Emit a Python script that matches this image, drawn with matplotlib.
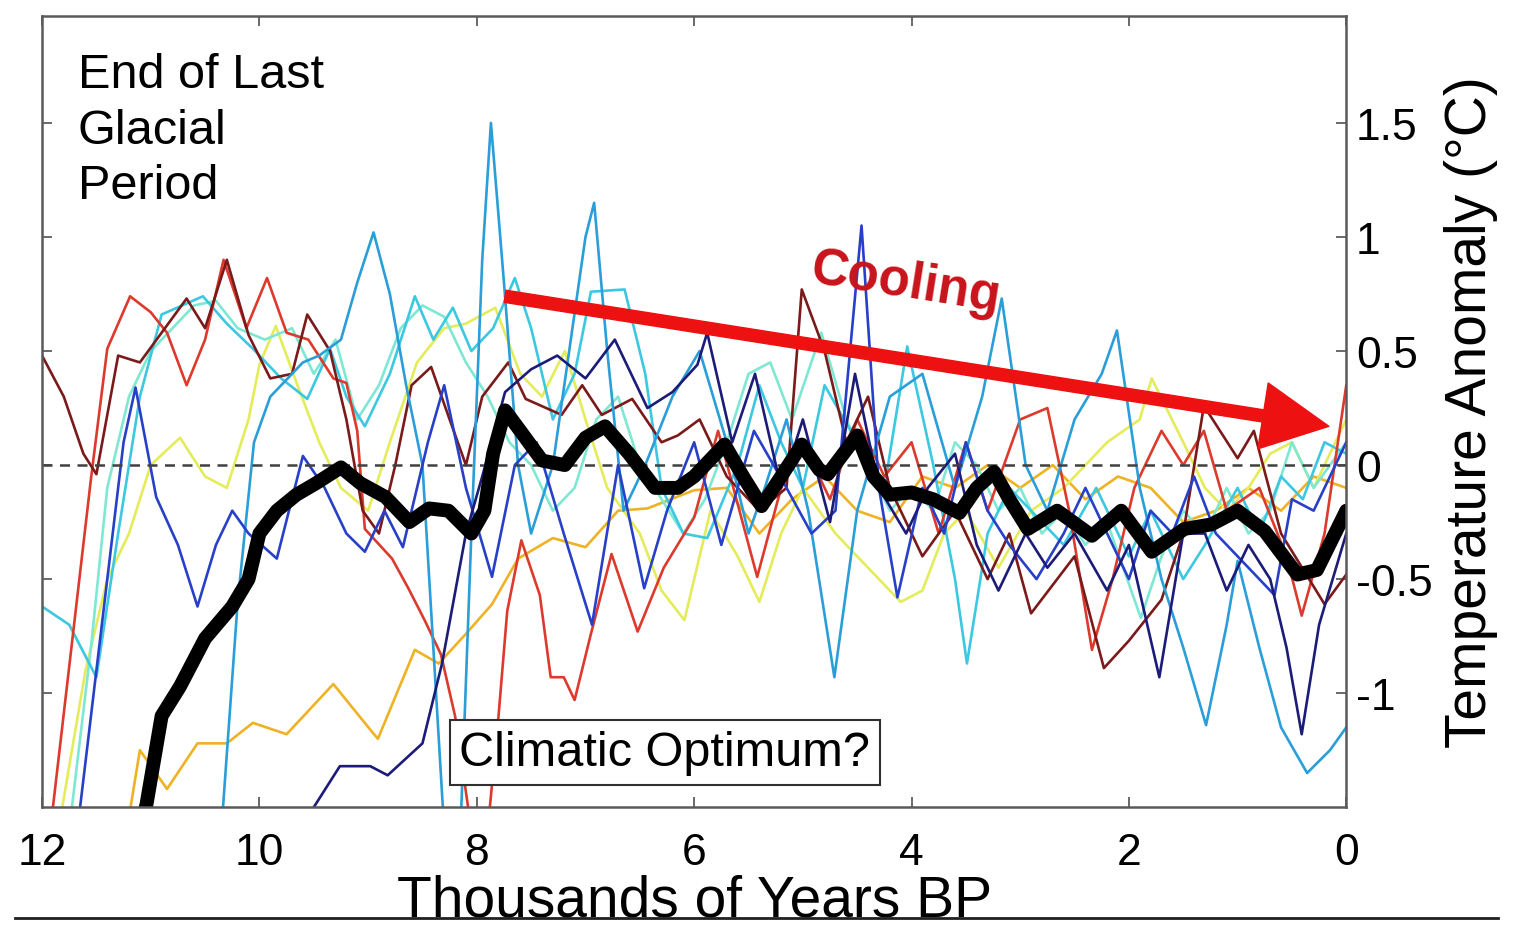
import matplotlib
matplotlib.use("Agg")
from matplotlib import pyplot as plt
from matplotlib.lines import Line2D

plt.rcParams['font.family'] = ['Liberation Sans', 'DejaVu Sans']

# proxy records (thousands of years BP, anomaly degC)
ka_maroon = [12.0, 11.8, 11.62, 11.5, 11.3, 11.1, 10.67, 10.5, 10.3, 10.1, 9.9, 9.7, 9.56, 9.35, 9.2, 9.05,
             8.9, 8.75, 8.6, 8.42, 8.25, 8.1, 7.95, 7.71, 7.55, 7.22, 7.03, 6.85, 6.57, 6.3, 6.15, 5.95,
             5.7, 5.4, 5.15, 5.01, 4.8, 4.6, 4.4, 4.2, 3.9, 3.6, 3.3, 3.1, 2.9, 2.5, 2.23, 2.0, 1.7, 1.5,
             1.31, 1.0, 0.85, 0.6, 0.2, 0.0]
t_maroon = [0.48, 0.3, 0.05, -0.04, 0.48, 0.45, 0.73, 0.6, 0.9, 0.57, 0.38, 0.4, 0.66, 0.5, 0.2, -0.2,
            -0.3, 0.0, 0.35, 0.43, 0.2, 0.0, 0.3, 0.45, 0.29, 0.22, 0.35, 0.22, 0.29, 0.1, 0.13, 0.2,
            -0.05, -0.2, -0.1, 0.77, 0.5, 0.1, 0.3, -0.1, -0.4, -0.2, -0.5, -0.3, -0.65, -0.4, -0.89, -0.77,
            -0.59, -0.3, 0.26, 0.03, 0.15, -0.3, -0.61, -0.48]

ka_red = [11.9, 11.55, 11.4, 11.19, 11.0, 10.85, 10.67, 10.5, 10.33, 10.12, 9.93, 9.75, 9.55, 9.32, 9.2,
          9.1, 9.03, 8.78, 8.63, 8.48, 8.33, 8.2, 8.05, 7.9, 7.8, 7.72, 7.59, 7.42, 7.32, 7.2, 7.1, 6.95,
          6.76, 6.52, 6.28, 6.0, 5.78, 5.42, 5.2, 5.0, 4.75, 4.5, 4.25, 4.0, 3.75, 3.5, 3.3, 3.0, 2.75,
          2.55, 2.34, 2.15, 1.95, 1.7, 1.5, 1.31, 1.1, 0.8, 0.55, 0.41, 0.2, 0.0]
t_red = [-1.5, -0.06, 0.51, 0.74, 0.67, 0.58, 0.35, 0.55, 0.9, 0.6, 0.82, 0.58, 0.55, 0.38, 0.36,
         0.15, -0.28, -0.41, -0.54, -0.68, -0.83, -1.1, -1.6, -1.6, -1.1, -0.64, -0.33, -0.57, -0.93, -0.93,
         -1.03, -0.74, -0.39, -0.73, -0.45, -0.23, 0.15, -0.49, -0.1, 0.1, -0.15, 0.2, -0.05, 0.1, -0.3,
         0.1, -0.2, 0.2, 0.25, -0.2, -0.81, -0.5, -0.1, 0.15, 0.0, 0.15, -0.2, -0.1, -0.4, -0.66, -0.3, 0.35]

ka_orange = [11.22, 11.1, 10.85, 10.57, 10.3, 10.06, 9.75, 9.32, 8.98, 8.91, 8.57, 8.35, 8.1, 7.86, 7.62,
             7.3, 7.0, 6.7, 6.43, 6.0, 5.7, 5.4, 5.1, 4.8, 4.5, 4.2, 3.9, 3.6, 3.3, 3.0, 2.7, 2.4, 2.1,
             1.8, 1.5, 1.2, 0.9, 0.6, 0.3, 0.0]
t_orange = [-1.6, -1.25, -1.42, -1.22, -1.22, -1.13, -1.18, -0.96, -1.16, -1.2, -0.81, -0.87, -0.74, -0.61,
            -0.41, -0.32, -0.36, -0.2, -0.19, -0.11, -0.1, -0.3, -0.15, -0.05, -0.2, -0.25, -0.05, -0.1,
            0.0, -0.1, 0.0, -0.15, -0.05, -0.1, -0.25, -0.2, -0.1, -0.2, -0.05, -0.1]

ka_yellow = [11.85, 11.6, 11.4, 11.2, 11.0, 10.73, 10.5, 10.3, 10.1, 10.0, 9.85, 9.65, 9.45, 9.25, 9.0,
             8.8, 8.55, 8.3, 8.1, 7.83, 7.6, 7.4, 7.19, 7.0, 6.8, 6.5, 6.3, 6.09, 5.85, 5.6, 5.4, 5.2, 5.0,
             4.7, 4.4, 4.1, 3.9, 3.7, 3.5, 3.2, 2.9, 2.6, 2.2, 1.9, 1.79, 1.5, 1.3, 1.1, 0.9, 0.7, 0.5,
             0.3, 0.0]
t_yellow = [-1.6, -0.9, -0.5, -0.3, 0.0, 0.12, -0.05, -0.1, 0.2, 0.44, 0.61, 0.35, 0.1, -0.1, -0.2,
            0.1, 0.45, 0.6, 0.62, 0.69, 0.4, 0.3, 0.5, 0.2, -0.1, -0.3, -0.55, -0.68, -0.2, -0.4, -0.6,
            -0.3, -0.1, -0.3, -0.45, -0.6, -0.55, -0.3, -0.2, -0.45, -0.2, -0.1, 0.1, 0.2, 0.38, 0.1, -0.1,
            -0.2, -0.1, 0.05, 0.1, -0.1, 0.2]

ka_aqua = [11.75, 11.55, 11.4, 11.2, 11.0, 10.8, 10.6, 10.4, 10.2, 9.95, 9.7, 9.5, 9.3, 9.1, 8.9, 8.7,
           8.5, 8.3, 8.1, 7.9, 7.7, 7.5, 7.3, 7.1, 6.9, 6.7, 6.5, 6.3, 6.1, 5.9, 5.7, 5.5, 5.3, 5.1, 4.83,
           4.6, 4.4, 4.2, 4.0, 3.8, 3.6, 3.4, 3.2, 3.0, 2.8, 2.6, 2.4, 2.2, 1.89, 1.7, 1.5, 1.3, 1.1, 0.9,
           0.7, 0.5, 0.3, 0.0]
t_aqua = [-1.6, -0.8, -0.1, 0.3, 0.5, 0.6, 0.7, 0.72, 0.6, 0.55, 0.6, 0.4, 0.55, 0.2, 0.35, 0.6,
          0.7, 0.65, 0.45, 0.3, 0.1, 0.0, -0.2, -0.1, 0.2, 0.3, 0.0, -0.15, -0.3, -0.15, 0.1, 0.4, 0.45,
          0.2, 0.58, 0.2, 0.0, -0.2, -0.1, -0.2, 0.1, 0.0, -0.2, -0.1, -0.3, -0.2, -0.35, -0.25, -0.67,
          -0.4, -0.2, -0.3, -0.1, -0.3, -0.2, 0.1, -0.1, 0.1]

ka_cyan = [12.0, 11.75, 11.5, 11.3, 11.1, 10.9, 10.52, 10.3, 10.06, 9.8, 9.56, 9.35, 9.2, 9.03, 8.8,
           8.57, 8.4, 8.22, 8.05, 7.85, 7.65, 7.5, 7.3, 7.1, 6.95, 6.64, 6.45, 6.3, 6.1, 5.88, 5.6, 5.4,
           5.2, 5.0, 4.8, 4.5, 4.25, 4.04, 3.8, 3.6, 3.49, 3.3, 3.1, 2.9, 2.6, 2.3, 2.0, 1.8, 1.5, 1.3,
           1.0, 0.8, 0.6, 0.4, 0.2, 0.0]
t_cyan = [-0.62, -0.7, -0.93, -0.3, 0.3, 0.66, 0.74, 0.62, 0.51, 0.38, 0.29, 0.51, 0.3, 0.17, 0.4,
          0.74, 0.55, 0.69, 0.5, 0.6, 0.82, 0.6, 0.2, 0.4, 0.76, 0.77, 0.4, -0.1, -0.3, -0.32, 0.0, 0.35,
          0.1, -0.1, 0.35, 0.1, -0.1, 0.52, 0.0, -0.5, -0.87, -0.3, -0.1, -0.2, -0.35, -0.1, -0.4, -0.2,
          -0.5, -0.35, -0.1, -0.3, -0.05, -0.15, 0.1, 0.05]

ka_sky = [10.35, 10.2, 10.05, 9.9, 9.6, 9.45, 9.25, 9.1, 8.95, 8.8, 8.65, 8.5, 8.4, 8.3, 8.15, 8.05,
          7.95, 7.87, 7.75, 7.62, 7.5, 7.3, 7.15, 7.0, 6.92, 6.8, 6.65, 6.45, 6.2, 5.95, 5.7, 5.5, 5.35,
          5.15, 4.95, 4.71, 4.5, 4.2, 3.9, 3.6, 3.35, 3.17, 2.95, 2.75, 2.5, 2.25, 2.11, 1.9, 1.7, 1.5,
          1.29, 1.1, 1.0, 0.8, 0.6, 0.36, 0.15, 0.0]
t_sky = [-1.6, -0.6, 0.1, 0.3, 0.45, 0.48, 0.55, 0.8, 1.02, 0.75, 0.35, 0.0, -0.8, -1.6, -1.6, -0.3,
         0.9, 1.5, 0.8, 0.0, -0.3, 0.0, 0.5, 1.0, 1.15, 0.5, -0.2, 0.0, 0.3, 0.5, 0.1, -0.3, -0.1,
         0.2, -0.2, -0.93, -0.2, 0.3, 0.4, -0.1, 0.3, 0.73, 0.0, -0.2, 0.2, 0.4, 0.59, -0.1, -0.5, -0.8,
         -1.14, -0.7, -0.42, -0.8, -1.15, -1.35, -1.25, -1.15]

ka_blue = [11.65, 11.4, 11.25, 11.14, 10.95, 10.75, 10.57, 10.4, 10.25, 10.1, 9.84, 9.6, 9.4, 9.2, 9.03,
           8.85, 8.68, 8.45, 8.3, 8.1, 7.86, 7.65, 7.45, 7.2, 6.94, 6.7, 6.46, 6.25, 6.0, 5.75, 5.45,
           5.15, 4.92, 4.7, 4.46, 4.3, 4.13, 3.9, 3.7, 3.5, 3.3, 3.1, 2.85, 2.6, 2.4, 2.2, 2.0, 1.8, 1.6,
           1.4, 1.2, 0.9, 0.66, 0.5, 0.3, 0.1, 0.0]
t_blue = [-1.5, -0.5, 0.1, 0.34, -0.14, -0.35, -0.62, -0.35, -0.2, -0.3, -0.41, 0.04, -0.1, -0.3, -0.38,
          -0.2, -0.36, 0.1, 0.35, -0.1, -0.49, 0.0, 0.1, -0.3, -0.7, 0.0, -0.54, -0.2, 0.1, -0.35, 0.15,
          -0.1, -0.3, -0.2, 1.05, -0.1, -0.58, -0.1, -0.3, 0.1, -0.2, -0.35, -0.5, -0.3, -0.1, -0.3, -0.5,
          -0.2, -0.3, -0.05, -0.3, -0.45, -0.57, -0.15, -0.2, 0.0, 0.1]

ka_navy = [9.55, 9.5, 9.26, 8.98, 8.82, 8.5, 8.32, 8.1, 7.95, 7.74, 7.5, 7.26, 7.0, 6.73, 6.43, 6.2,
           5.97, 5.88, 5.65, 5.44, 5.2, 5.0, 4.75, 4.52, 4.3, 4.05, 3.85, 3.6, 3.4, 3.2, 2.95, 2.75, 2.5,
           2.2, 2.0, 1.72, 1.5, 1.3, 1.1, 0.9, 0.7, 0.55, 0.41, 0.25, 0.0]
t_navy = [-1.6, -1.5, -1.32, -1.32, -1.36, -1.22, -0.87, -0.3, -0.05, 0.32, 0.42, 0.48, 0.38, 0.55, 0.25,
          0.32, 0.44, 0.58, 0.1, 0.4, -0.1, 0.2, -0.25, 0.4, -0.1, -0.3, -0.1, 0.05, -0.35, -0.55, -0.3,
          -0.45, -0.3, -0.55, -0.35, -0.93, -0.3, -0.3, -0.55, -0.35, -0.5, -0.8, -1.18, -0.7, -0.3]

# stacked mean
ka_mean = [11.1, 11.04, 10.9, 10.73, 10.5, 10.25, 10.1, 10.0, 9.84, 9.66, 9.48, 9.25, 9.07, 8.84, 8.62,
           8.44, 8.26, 8.05, 7.93, 7.85, 7.74, 7.6, 7.4, 7.19, 7.0, 6.82, 6.6, 6.36, 6.15, 6.0, 5.72,
           5.55, 5.38, 5.2, 5.01, 4.85, 4.77, 4.5, 4.35, 4.2, 4.0, 3.8, 3.56, 3.4, 3.24, 3.1, 2.93, 2.66,
           2.34, 2.07, 1.79, 1.49, 1.24, 1.0, 0.75, 0.45, 0.27, 0.0]
t_mean = [-1.6, -1.49, -1.1, -0.97, -0.76, -0.62, -0.5, -0.3, -0.2, -0.13, -0.08, -0.01, -0.08, -0.14,
          -0.25, -0.19, -0.2, -0.3, -0.2, 0.05, 0.24, 0.15, 0.02, 0.0, 0.12, 0.17, 0.05, -0.1, -0.1, -0.05,
          0.09, -0.05, -0.18, -0.05, 0.09, -0.02, -0.04, 0.13, -0.05, -0.13, -0.12, -0.15, -0.21, -0.1,
          -0.03, -0.15, -0.28, -0.2, -0.31, -0.2, -0.38, -0.28, -0.26, -0.2, -0.29, -0.48, -0.46, -0.2]

records = [
    (ka_orange, t_orange, "#eeb224"),
    (ka_yellow, t_yellow, "#e4ec5a"),
    (ka_aqua, t_aqua, "#7ee8d2"),
    (ka_cyan, t_cyan, "#3cc8e0"),
    (ka_red, t_red, "#dc3a2c"),
    (ka_maroon, t_maroon, "#7a1a1a"),
    (ka_sky, t_sky, "#2a9ed8"),
    (ka_blue, t_blue, "#2840c8"),
    (ka_navy, t_navy, "#1c1c78"),
]

fig = plt.figure(figsize=(15.13, 9.29), dpi=100)
ax = fig.add_axes([0.0278, 0.130, 0.862, 0.852])

for ka, t, c in records:
    ax.plot(ka, t, color=c, lw=1.9, solid_joinstyle="round")

ax.axhline(0, color="#404040", lw=1.8, ls=(0, (4, 3)))
ax.plot(ka_mean, t_mean, color="black", lw=10, solid_joinstyle="round", solid_capstyle="round")

ax.set_xlim(12, 0)
ax.set_ylim(-1.5, 1.97)
ax.set_xticks([12, 10, 8, 6, 4, 2, 0])
ax.set_xticklabels(["12", "10", "8", "6", "4", "2", "0"])
ax.set_yticks([-1, -0.5, 0, 0.5, 1, 1.5])
ax.set_yticklabels(["-1", "-0.5", "0", "0.5", "1", "1.5"])
ax.yaxis.tick_right()
ax.tick_params(axis="both", direction="in", length=7, width=1.2, color="#505050",
               top=True, bottom=True, left=True, right=True, labelsize=32)
ax.tick_params(axis="x", pad=18)
ax.tick_params(axis="y", pad=7)
ax.yaxis.set_label_position("right")
ax.set_ylabel("Temperature Anomaly (°C)", fontsize=41, labelpad=8)
ax.set_xlabel("Thousands of Years BP", fontsize=41, labelpad=0)
for sp in ax.spines.values():
    sp.set_color("#5a5a5a")
    sp.set_linewidth(1.8)

ax.text(11.67, 1.81, "End of Last\nGlacial\nPeriod", fontsize=35, va="top", ha="left",
        linespacing=1.3)
ax.text(6.27, -1.26, "Climatic Optimum?", fontsize=35, ha="center", va="center",
        bbox=dict(boxstyle="square,pad=0.2", fc="white", ec="#303030", lw=1.5))

ax.annotate("", xy=(0.16, 0.17), xytext=(7.74, 0.74),
            arrowprops=dict(arrowstyle="simple,head_length=1.2,head_width=1.2,tail_width=0.22",
                            color="#ee1111", mutation_scale=40, shrinkA=0, shrinkB=0))
ax.text(4.05, 0.8, "Cooling", fontsize=37, fontweight="bold", color="#c8141c",
        rotation=-9, ha="center", va="center")

fig.add_artist(Line2D([0.01, 0.99], [0.011, 0.011], color="#202020", lw=2))

fig.savefig("out.png", dpi=100)
